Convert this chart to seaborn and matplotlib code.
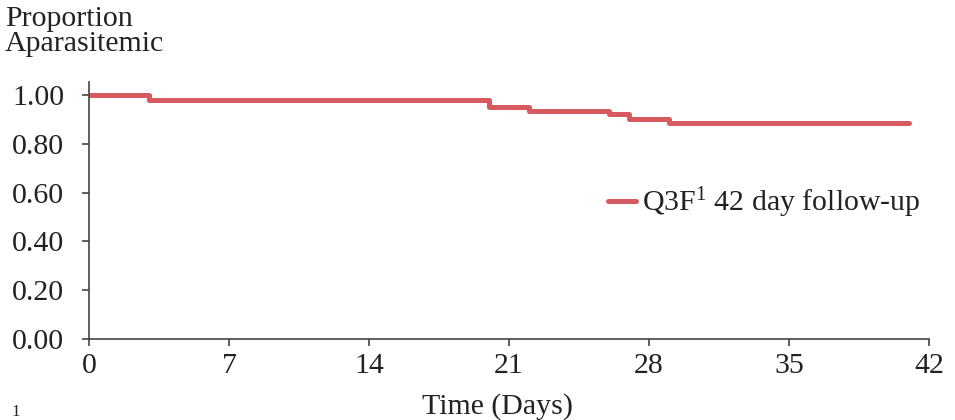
import matplotlib
matplotlib.use("Agg")
import matplotlib.pyplot as plt
import seaborn as sns
import pandas as pd

# Kaplan-Meier style step data
days = [0, 3, 20, 22, 26, 27, 29, 41]
proportion = [1.00, 0.98, 0.95, 0.935, 0.92, 0.90, 0.885, 0.885]
series_label = "Q3F$^{1}$ 42 day follow-up"
x_ticks = [0, 7, 14, 21, 28, 35, 42]
y_ticks = [0.0, 0.2, 0.4, 0.6, 0.8, 1.0]

data = pd.DataFrame({"Days": days, "Proportion": proportion})

sns.set_style("white")
plt.rcParams["font.family"] = ["Liberation Serif", "DejaVu Serif"]
plt.rcParams["mathtext.default"] = "regular"
plt.rcParams["mathtext.fontset"] = "custom"
plt.rcParams["mathtext.rm"] = "Liberation Serif"

fs = 21.5
fig = plt.figure(figsize=(9.55, 4.2), dpi=100)
ax = fig.add_axes([89 / 955, 1 - 339 / 420, 840 / 955, 257 / 420])

sns.lineplot(x="Days", y="Proportion", data=data, drawstyle="steps-post",
             color="#d65a60", linewidth=3.6, label=series_label, ax=ax)

ax.set_xlim(0, 42)
ax.set_ylim(0, 1.053)
ax.set_xticks(x_ticks)
ax.set_xticklabels([str(t) for t in x_ticks])
ax.set_yticks(y_ticks)
ax.set_yticklabels([f"{t:.2f}" for t in y_ticks])

for side in ["top", "right"]:
    ax.spines[side].set_visible(False)
for side in ["left", "bottom"]:
    ax.spines[side].set_color("#444444")
    ax.spines[side].set_linewidth(1.2)

ax.tick_params(axis="both", direction="out", length=5, width=1.2,
               color="#444444", labelsize=fs, labelcolor="#222222",
               bottom=True, left=True)
ax.tick_params(axis="y", pad=13)
ax.tick_params(axis="x", pad=5)

ax.set_xlabel("")
ax.set_ylabel("")
fig.text(497 / 955, 1 - 407 / 420, "Time (Days)", fontsize=fs,
         color="#222222", va="center", ha="center")
fig.text(5 / 955, 1 - 6 / 420, "Proportion\nAparasitemic", fontsize=fs,
         color="#222222", va="top", ha="left", linespacing=0.95)
fig.text(11 / 955, 1 - 404 / 420, "1", fontsize=12, color="#222222",
         va="top", ha="left")

ax.legend(loc="center left", bbox_to_anchor=(0.586, 0.53), frameon=False,
          fontsize=fs, handlelength=0.95, handletextpad=0.2,
          labelcolor="#222222")

plt.savefig("out.png", dpi=100)
